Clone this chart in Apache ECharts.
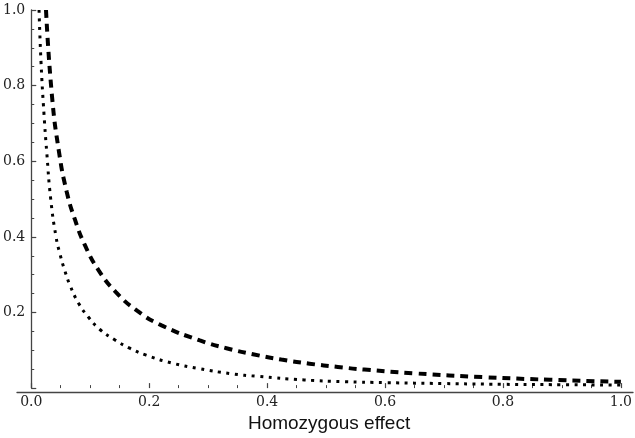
<!DOCTYPE html>
<html>
<head>
<meta charset="utf-8">
<script src="https://cdn.jsdelivr.net/npm/echarts@6/dist/echarts.min.js"></script>
<style>html,body{margin:0;padding:0;background:#fff;}#c{width:635px;height:438px;}</style>
</head>
<body>
<div id="c"></div>
<script>
// Dashed curve (x, y)
const dashedX = [0.025,0.035,0.047,0.060,0.074,0.091,0.114,0.1435,0.180,0.221,0.286,0.331,0.376,0.424,0.472,0.520,0.565,0.650,0.767,0.880,1.000];
const dashedY = [1.000,0.775,0.625,0.520,0.446,0.378,0.312,0.254,0.204,0.166,0.126,0.1055,0.0895,0.0755,0.0646,0.056,0.049,0.039,0.029,0.022,0.0165];
// Dotted curve (x, y)
const dottedX = [0.0132,0.0166,0.0217,0.0262,0.033,0.042,0.0488,0.057,0.0657,0.080,0.0968,0.1165,0.142,0.167,0.195,0.238,0.283,0.339,0.384,0.463,0.531,0.600,0.700,0.800,0.900,1.000];
const dottedY = [1.000,0.860,0.722,0.625,0.500,0.400,0.354,0.310,0.272,0.225,0.188,0.155,0.1274,0.1055,0.087,0.0665,0.052,0.038,0.031,0.0215,0.017,0.0145,0.012,0.010,0.009,0.008];
const xTicks = [0, 0.2, 0.4, 0.6, 0.8, 1.0];
const yTicks = [0, 0.2, 0.4, 0.6, 0.8, 1.0];
const xTitle = 'Homozygous effect';

const pair = (xs, ys) => xs.map((x, i) => [x, ys[i]]);
const axisColor = '#444';
const labelFont = { fontFamily: 'DejaVu Serif', fontSize: 14, color: '#222' };

const chart = echarts.init(document.getElementById('c'), null, { renderer: 'canvas' });
chart.setOption({
  animation: false,
  backgroundColor: '#fff',
  grid: [
    { left: 29, top: 10, width: 592, height: 382 },
    { left: 17, top: 10, right: 2, height: 382 }
  ],
  xAxis: [
    {
      type: 'value', gridIndex: 0, min: xTicks[0], max: xTicks[xTicks.length - 1], interval: 0.2,
      axisLine: { show: false },
      axisTick: { show: true, inside: true, length: 5, lineStyle: { color: axisColor, width: 1.2 } },
      minorTick: { show: true, splitNumber: 4, length: 3, lineStyle: { color: axisColor, width: 1 } },
      splitLine: { show: false },
      axisLabel: Object.assign({ margin: 7, formatter: v => v.toFixed(1) }, labelFont),
      name: xTitle, nameLocation: 'middle', nameGap: 18,
      nameTextStyle: { fontFamily: 'Liberation Sans', fontSize: 19, color: '#111', padding: [0, 0, 0, 6] }
    },
    {
      type: 'value', gridIndex: 1, min: 0, max: 1,
      axisLine: { show: true, lineStyle: { color: axisColor, width: 1.3 } },
      axisTick: { show: false }, axisLabel: { show: false }, splitLine: { show: false }
    }
  ],
  yAxis: [
    {
      type: 'value', gridIndex: 0, min: yTicks[0], max: yTicks[yTicks.length - 1], interval: 0.2,
      axisLine: { show: true, lineStyle: { color: axisColor, width: 1.3 } },
      axisTick: { show: true, inside: true, length: 5, lineStyle: { color: axisColor, width: 1.2 } },
      minorTick: { show: true, splitNumber: 4, length: 3, lineStyle: { color: axisColor, width: 1 } },
      splitLine: { show: false },
      axisLabel: Object.assign({ margin: 6, formatter: v => (v === 0 ? '' : v.toFixed(1)) }, labelFont)
    },
    { type: 'value', gridIndex: 1, min: 0, max: 1, show: false }
  ],
  series: [
    {
      type: 'line', xAxisIndex: 0, yAxisIndex: 0, data: pair(dashedX, dashedY),
      showSymbol: false, smooth: 0.5,
      lineStyle: { color: '#000', width: 4, type: [8, 6] }
    },
    {
      type: 'line', xAxisIndex: 0, yAxisIndex: 0, data: pair(dottedX, dottedY),
      showSymbol: false, smooth: 0.5,
      lineStyle: { color: '#000', width: 3, type: [3, 5.5] }
    }
  ]
});
</script>
</body>
</html>
